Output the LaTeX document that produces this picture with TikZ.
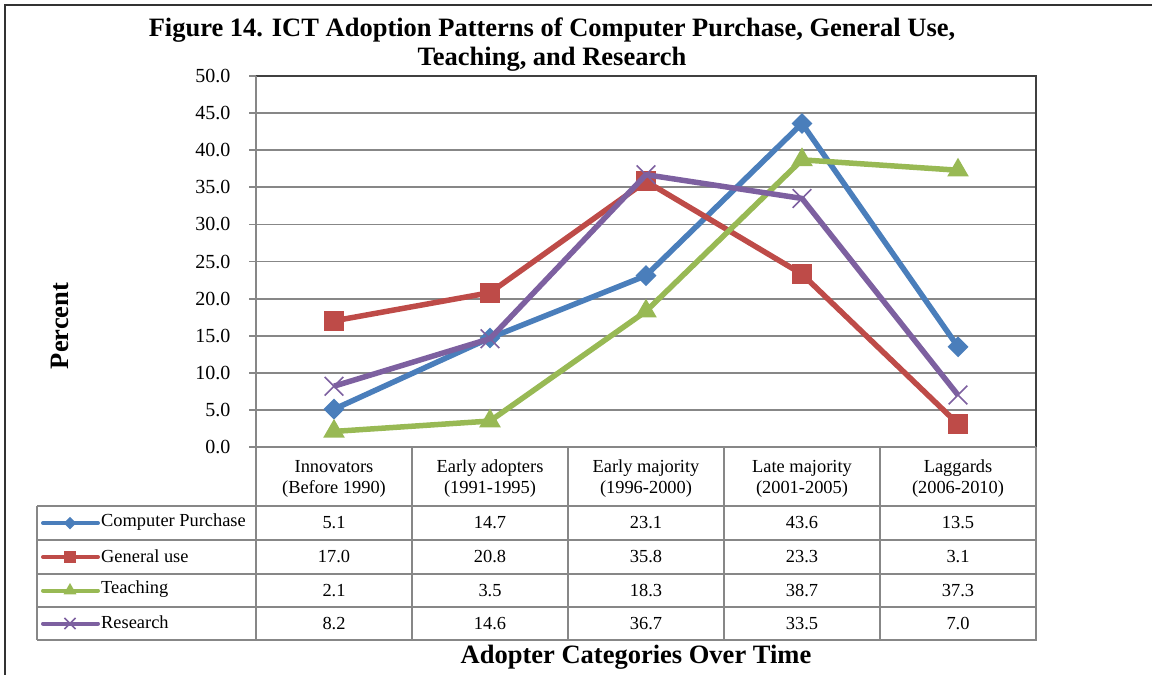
\documentclass[tikz,border=0pt]{standalone}
\usepackage{fontspec}
\setmainfont{Liberation Serif}
\usetikzlibrary{positioning,shapes.geometric,shapes.misc}
\definecolor{cpblue}{HTML}{4A7EBB}
\definecolor{gured}{HTML}{BE4B48}
\definecolor{tgreen}{HTML}{98B954}
\definecolor{rpurple}{HTML}{7D60A0}
\definecolor{gridgray}{HTML}{878787}
\newcommand{\tabfont}{\fontsize{18.4}{21}\selectfont}

\begin{document}
\begin{tikzpicture}[x=1pt,y=-1pt,
  grid/.style={draw=gridgray,line width=1.8pt},
  tab/.style={draw=gridgray,line width=2.2pt},
  series/.style={line width=5.5pt,line join=round},
  markcp/.style={diamond,fill=cpblue,inner sep=0,minimum size=21pt},
  markgu/.style={rectangle,fill=gured,inner sep=0,minimum size=20pt},
  markt/.style={regular polygon,regular polygon sides=3,fill=tgreen,inner sep=0,minimum size=25pt},
  markr/.style={cross out,draw=rpurple,line width=1.6pt,inner sep=0,minimum size=17pt},
  ticklab/.style={anchor=east,font=\fontsize{20}{22}\selectfont},
  cell/.style={font=\tabfont},
  bigtitle/.style={font=\fontsize{26.5}{29}\selectfont\bfseries,align=center}]
  \useasboundingbox (0,0) rectangle (1152,675);

  % outer frame
  \draw[line width=2.2pt,draw=black!80] (5,675) -- (5,5) -- (1152,5);

  \node[bigtitle] (title) at (552,45) {Figure 14. ICT Adoption Patterns of Computer Purchase, General Use,\\ Teaching, and Research};
  \node[bigtitle,rotate=90] (ylab) at (60,326) {Percent};
  \node[bigtitle] (xlab) at (636,657) {Adopter Categories Over Time};

  % plot area
  \foreach \v in {5,10,...,45} {
    \draw[grid] (256,447-7.42*\v) -- (1036,447-7.42*\v);
  }
  \foreach \v in {0,5,...,50} {
    \draw[grid] (249,447-7.42*\v) -- (256,447-7.42*\v);
    \node[ticklab] (t\v) at (234,447-7.42*\v) {\v.0};
  }
  \draw[line width=2.2pt,draw=black!75] (256,76) -- (1036,76) -- (1036,447);
  \draw[grid,line width=2.6pt] (256,76) -- (256,447) -- (1036,447);

  % data table
  \foreach \yy in {506,540,574,607,640} {
    \draw[tab] (37,\yy) -- (1037,\yy);
  }
  \foreach \xx in {256,412,568,724,880,1036} {
    \draw[tab] (\xx,447) -- (\xx,640);
  }
  \draw[tab] (37,506) -- (37,640);

  \foreach \lab [count=\i] in {Innovators\\(Before 1990),Early adopters\\(1991-1995),
      Early majority\\(1996-2000),Late majority\\(2001-2005),Laggards\\(2006-2010)} {
    \node[cell,align=center] (h\i) at (256+156*\i-78,479) {\lab};
  }

  % series: name / colour / row / legend / values
  \foreach \s/\col/\row/\leg/\vals in {
      cp/cpblue/523/Computer Purchase/{5.1,14.7,23.1,43.6,13.5},
      gu/gured/557/General use/{17.0,20.8,35.8,23.3,3.1},
      t/tgreen/590.5/Teaching/{2.1,3.5,18.3,38.7,37.3},
      r/rpurple/623.5/Research/{8.2,14.6,36.7,33.5,7.0}} {
    \foreach \v [count=\i] in \vals {
      \coordinate (\s\i) at (256+156*\i-78,447-7.42*\v);
      \node[cell] (\s v\i) at (256+156*\i-78,\row) {\v};
    }
    \draw[series,\col] (\s1) -- (\s2) -- (\s3) -- (\s4) -- (\s5);
    \foreach \i in {1,...,5} {
      \node[mark\s] at (\s\i) {};
    }
    % legend key
    \coordinate (k\s a) at (43,\row);
    \coordinate (k\s b) at (98,\row);
    \draw[\col,line width=4pt,line cap=round] (k\s a) -- (k\s b);
    \node[mark\s,scale=0.6] at (70,\row) {};
    \node[cell,anchor=west,inner sep=0] (leg\s) at (101,\row-1) {\leg};
  }
\end{tikzpicture}
\end{document}
